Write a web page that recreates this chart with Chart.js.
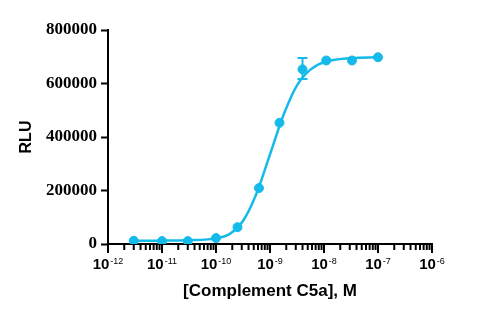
<!DOCTYPE html>
<html>
<head>
<meta charset="utf-8">
<script src="https://cdn.jsdelivr.net/npm/chart.js@4.4.1/dist/chart.umd.min.js"></script>
<style>
  html, body { margin: 0; padding: 0; background: #fff; }
  #wrap { width: 485px; height: 318px; }
</style>
</head>
<body>
<div id="wrap"><canvas id="grafica" width="485" height="318"></canvas></div>
<script>
// Datos medidos (concentracion M, RLU)
const concentraciones = [3e-12, 1e-11, 3e-11, 1e-10, 2.5e-10, 6.25e-10, 1.5e-9, 4e-9, 1.1e-8, 3.3e-8, 1e-7];
const rlu = [12000, 11000, 11000, 22000, 63000, 209000, 453000, 653000, 686000, 686000, 698000];
const errorAlto = [null, null, null, null, null, null, null, 695000, null, null, null];
const errorBajo = [null, null, null, null, null, null, null, 617000, null, null, null];

// Curva ajustada
const curvaX = [3e-12, 1e-11, 3e-11, 1e-10, 1.8e-10, 3.2e-10, 5.6e-10, 1e-9, 1.8e-9, 3.2e-9, 5.6e-9, 1e-8, 3.2e-8, 1e-7];
const curvaY = [12000, 12500, 14000, 21000, 38000, 88000, 188000, 335000, 485000, 595000, 652000, 680000, 695000, 698000];

const yTicks = [0, 200000, 400000, 600000, 800000];

const azul = '#14BBEA';

function esMayor(v) {
    const l = Math.log10(v);
    return Math.abs(l - Math.round(l)) < 1e-6;
}

// Marcas del eje X (mayores largas, menores cortas), etiquetas 10^n y barra de error
const marcasPlugin = {
    id: 'marcas',
    afterDraw(chart) {
        const ctx = chart.ctx;
        const x = chart.scales.x;
        const y = chart.scales.y;
        const base = chart.chartArea.bottom;
        ctx.save();
        ctx.strokeStyle = '#000';
        ctx.fillStyle = '#000';
        x.ticks.forEach(t => {
            const px = x.getPixelForValue(t.value);
            const mayor = esMayor(t.value);
            ctx.lineWidth = 2;
            ctx.beginPath();
            ctx.moveTo(px, base);
            ctx.lineTo(px, base + (mayor ? 9 : 6));
            ctx.stroke();
            if (mayor) {
                const exp = '-' + Math.abs(Math.round(Math.log10(t.value)));
                ctx.font = 'bold 15px "Liberation Sans"';
                const w1 = ctx.measureText('10').width;
                ctx.font = '9px "Liberation Sans"';
                const w2 = ctx.measureText(exp).width;
                const x0 = px - (w1 + 1 + w2) / 2;
                ctx.textBaseline = 'alphabetic';
                ctx.textAlign = 'left';
                ctx.font = 'bold 15px "Liberation Sans"';
                ctx.fillText('10', x0, base + 25);
                ctx.font = '9px "Liberation Sans"';
                ctx.fillText(exp, x0 + w1 + 1, base + 20);
            }
        });
        ctx.strokeStyle = azul;
        ctx.lineWidth = 2;
        concentraciones.forEach((c, i) => {
            if (errorAlto[i] === null) return;
            const px = x.getPixelForValue(c);
            const top = y.getPixelForValue(errorAlto[i]);
            const bot = y.getPixelForValue(errorBajo[i]);
            ctx.beginPath();
            ctx.moveTo(px, top); ctx.lineTo(px, bot);
            ctx.moveTo(px - 5, top); ctx.lineTo(px + 5, top);
            ctx.moveTo(px - 5, bot); ctx.lineTo(px + 5, bot);
            ctx.stroke();
        });
        ctx.restore();
    }
};

new Chart(document.getElementById('grafica').getContext('2d'), {
    type: 'scatter',
    data: {
        datasets: [{
            label: 'Ajuste',
            data: curvaX.map((c, i) => ({x: c, y: curvaY[i]})),
            showLine: true,
            borderColor: azul,
            borderWidth: 2.5,
            pointRadius: 0,
            cubicInterpolationMode: 'monotone',
            fill: false
        }, {
            label: 'RLU',
            data: concentraciones.map((c, i) => ({x: c, y: rlu[i]})),
            showLine: false,
            backgroundColor: azul,
            borderColor: azul,
            pointRadius: 4.5
        }]
    },
    options: {
        responsive: false,
        animation: false,
        layout: { padding: { top: 30, right: 53, left: 0, bottom: 0 } },
        plugins: { legend: { display: false }, tooltip: { enabled: false } },
        scales: {
            x: {
                type: 'logarithmic',
                min: 1e-12,
                max: 1e-6,
                afterFit(s) { s.height = 74; },
                afterBuildTicks(s) {
                    const t = [];
                    for (let e = -12; e <= -6; e++) {
                        for (let m = 1; m <= 9; m++) {
                            if (e === -6 && m > 1) break;
                            t.push({value: Number(m + 'e' + e)});
                        }
                    }
                    s.ticks = t;
                },
                ticks: {
                    autoSkip: false,
                    maxRotation: 0,
                    padding: 3,
                    font: { family: 'Liberation Sans', size: 15, weight: 'bold' },
                    callback() { return ''; }
                },
                grid: { drawOnChartArea: false, tickLength: 9, tickColor: 'rgba(0,0,0,0)' },
                border: { color: '#000', width: 2 },
                title: {
                    display: true,
                    text: '[Complement C5a], M',
                    color: '#000',
                    font: { family: 'Liberation Sans', size: 17, weight: 'bold' },
                    padding: { top: 0, bottom: 16 }
                }
            },
            y: {
                min: 0,
                max: 800000,
                afterFit(s) { s.width = 108; },
                afterBuildTicks(s) { s.ticks = yTicks.map(v => ({value: v})); },
                ticks: {
                    padding: 4,
                    color: '#000',
                    font: { family: 'Liberation Serif', size: 17, weight: 'bold' },
                    callback(v) { return String(v); }
                },
                grid: { drawOnChartArea: false, tickLength: 7, tickColor: '#000', tickWidth: 2 },
                border: { color: '#000', width: 2 },
                title: {
                    display: true,
                    text: 'RLU',
                    color: '#000',
                    font: { family: 'Liberation Sans', size: 16, weight: 'bold' },
                    padding: { top: 17, bottom: 0 }
                }
            }
        }
    },
    plugins: [marcasPlugin]
});
</script>
</body>
</html>
